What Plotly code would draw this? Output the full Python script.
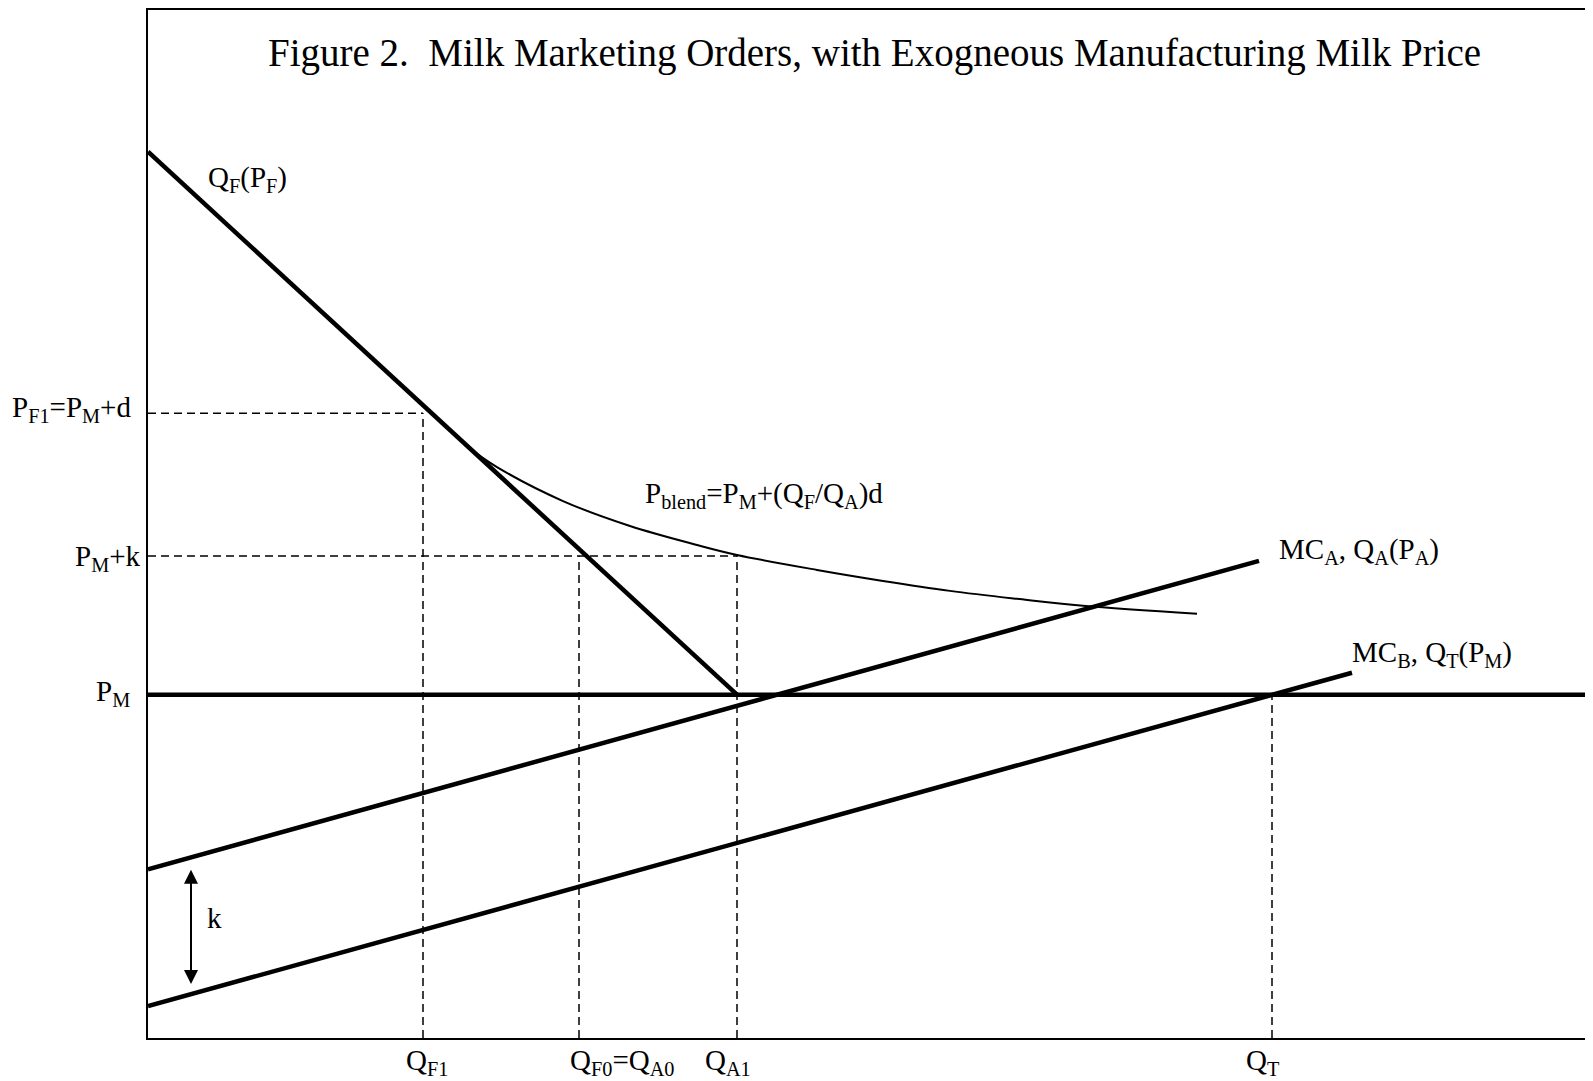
import plotly.graph_objects as go

# ---- data (Q = quantity, P = price; arbitrary diagram units) ----
PM = 344
PF1 = 626
PMk = 483
QF1 = 275
QF0 = 431
QA1 = 589
QT = 1124
Q_MAX = 1445
P_MAX = 1030

demand_Q = [0, 589]
demand_P = [888, 344]

mcA_Q = [0, 1111]
mcA_P = [169, 478]

mcB_Q = [0, 1204]
mcB_P = [32, 366]

blend_Q = [317, 349, 415, 482, 549, 589, 669, 735, 802, 869, 935, 1049]
blend_P = [594, 572, 538, 513, 494, 484, 469, 458, 448, 440, 433, 425]

k_arrow_Q = 43
k_arrow_P = [170, 54]

FONT = "Liberation Serif, Times New Roman, serif"
BLACK = "#000000"

fig = go.Figure()

def line(xs, ys, width, dash=None):
    fig.add_trace(go.Scatter(
        x=xs, y=ys, mode="lines", hoverinfo="skip", showlegend=False,
        line=dict(color=BLACK, width=width, dash=dash, shape="spline" if len(xs) > 2 else "linear"),
    ))

DASH = "8px,5px"
# dashed guide lines
line([0, QF1], [PF1, PF1], 1.5, DASH)
line([QF1, QF1], [0, PF1], 1.5, DASH)
line([0, QA1], [PMk, PMk], 1.5, DASH)
line([QF0, QF0], [0, PMk], 1.5, DASH)
line([QA1, QA1], [0, PMk], 1.5, DASH)
line([QT, QT], [0, PM], 1.5, DASH)

# main curves
line([0, Q_MAX], [PM, PM], 4.5)
line(demand_Q, demand_P, 4.5)
line(mcA_Q, mcA_P, 4.5)
line(mcB_Q, mcB_P, 4.5)
line(blend_Q, blend_P, 2)

anns = []
def txt(x, y, s, xanchor="left", size=29):
    # positions given in diagram units, placed via paper coords so labels outside the axes still show
    anns.append(dict(x=x / Q_MAX, y=y / P_MAX, xref="paper", yref="paper", text=s, showarrow=False,
                     xanchor=xanchor, yanchor="middle",
                     font=dict(family=FONT, size=size, color=BLACK)))

txt(726, 987, "Figure 2.\u00a0 Milk Marketing Orders, with Exogneous Manufacturing Milk Price", "center", 39)
txt(58, 861, "Q<sub>F</sub>(P<sub>F</sub>)")
txt(-15, 630, "P<sub>F1</sub>=P<sub>M</sub>+d", "right")
txt(-5, 481, "P<sub>M</sub>+k", "right")
txt(-16, 346, "P<sub>M</sub>", "right")
txt(495, 544, "P<sub>blend</sub>=P<sub>M</sub>+(Q<sub>F</sub>/Q<sub>A</sub>)d")
txt(1129, 488, "MC<sub>A</sub>, Q<sub>A</sub>(P<sub>A</sub>)")
txt(1202, 385, "MC<sub>B</sub>, Q<sub>T</sub>(P<sub>M</sub>)")
txt(57, 120, "k")
txt(279, -24, "Q<sub>F1</sub>", "center")
txt(474, -24, "Q<sub>F0</sub>=Q<sub>A0</sub>", "center")
txt(580, -24, "Q<sub>A1</sub>", "center")
txt(1115, -24, "Q<sub>T</sub>", "center")

# double-headed arrow for k
anns.append(dict(x=k_arrow_Q, y=k_arrow_P[1], ax=k_arrow_Q, ay=k_arrow_P[0],
                 xref="x", yref="y", axref="x", ayref="y", text="",
                 showarrow=True, arrowhead=2, startarrowhead=2, arrowside="end+start",
                 arrowsize=1.4, startarrowsize=1.4, arrowwidth=2, arrowcolor=BLACK))

fig.update_layout(
    width=1585, height=1073,
    margin=dict(l=140, r=0, t=0, b=43),
    paper_bgcolor="white", plot_bgcolor="white",
    annotations=anns,
    xaxis=dict(range=[0, Q_MAX], showgrid=False, zeroline=False, showticklabels=False,
               ticks="", showline=True, mirror=True, linecolor=BLACK, linewidth=1.5, fixedrange=True),
    yaxis=dict(range=[0, P_MAX], showgrid=False, zeroline=False, showticklabels=False,
               ticks="", showline=True, mirror=False, linecolor=BLACK, linewidth=1.5, fixedrange=True),
)

fig.write_html("out.html")
